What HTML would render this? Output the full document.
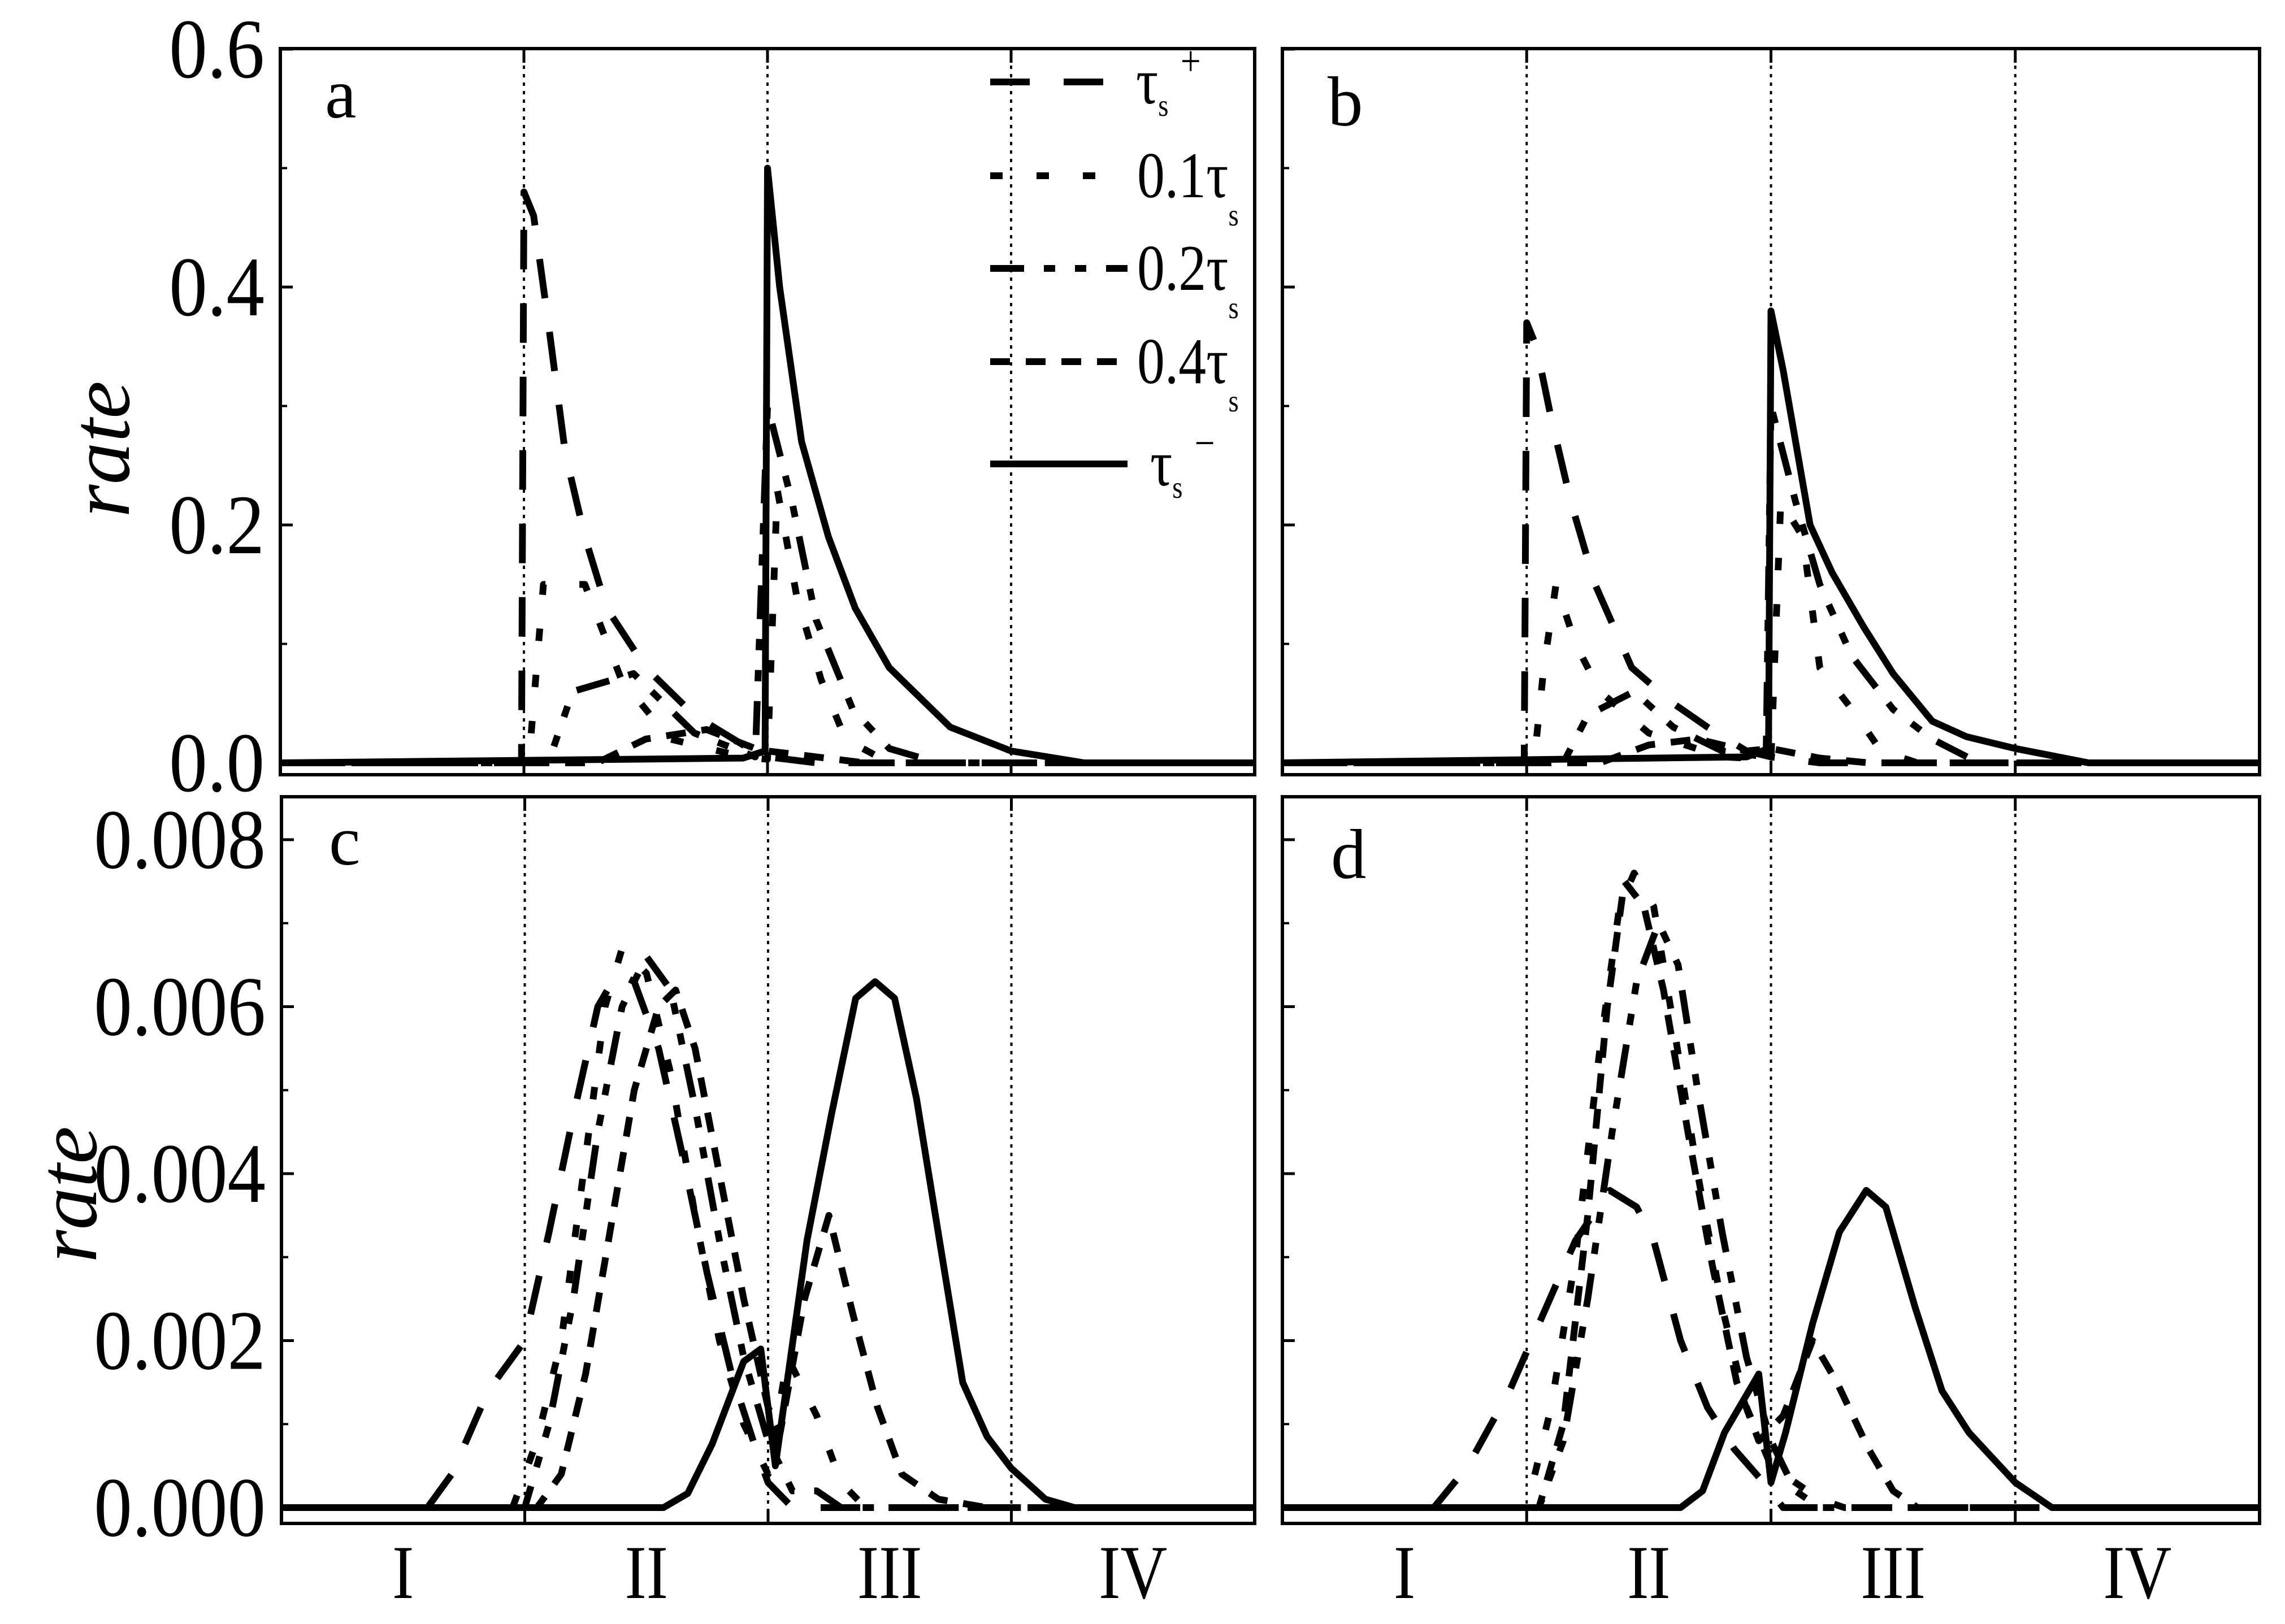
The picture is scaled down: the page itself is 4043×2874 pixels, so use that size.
<!DOCTYPE html>
<html><head><meta charset="utf-8">
<style>
html,body{margin:0;padding:0;background:#fff;}
svg{display:block;}
text{font-family:"Liberation Serif",serif;fill:#000;}
</style></head>
<body>
<svg id="fig" width="4043" height="2874" viewBox="0 0 4043 2874" xmlns="http://www.w3.org/2000/svg"></svg>
<script>
// ---- data (x in region units 0..4, region boundaries at 1,2,3) ----
const regionLabels = ["I","II","III","IV"];
const seriesNames = ["tau-plus","tau-0.1","tau-0.2","tau-0.4","tau-minus"];
const ticksTop = [0.0,0.2,0.4,0.6];
const tickLabelsTop = ["0.0","0.2","0.4","0.6"];
const ticksBottom = [0.000,0.002,0.004,0.006,0.008];
const tickLabelsBottom = ["0.000","0.002","0.004","0.006","0.008"];

const aTauPlusX = [0,0.99,1.0,1.04,1.1,1.17,1.25,1.34,1.5,1.7,1.9,2.0,2.2,4];
const aTauPlusY = [0,0,0.48,0.46,0.37,0.26,0.19,0.13,0.08,0.04,0.015,0.005,0,0];
const a01X = [0,1.02,1.08,1.25,1.4,1.6,1.9,2.0,2.04,2.12,2.22,2.32,2.5,4];
const a01Y = [0,0,0.15,0.15,0.07,0.02,0.005,0.003,0.23,0.14,0.07,0.02,0,0];
const a02X = [0,1.1,1.2,1.45,1.7,1.95,2.0,2.1,2.2,2.35,2.5,2.7,4];
const a02Y = [0,0,0.06,0.075,0.025,0.005,0.3,0.22,0.12,0.045,0.012,0,0];
const a04X = [0,1.3,1.5,1.75,1.95,2.0,2.2,2.4,4];
const a04Y = [0,0,0.02,0.028,0.012,0.01,0.005,0,0];
const aTauMinusX = [0,1.9,1.99,2.0,2.05,2.14,2.25,2.36,2.5,2.75,3.0,3.3,4];
const aTauMinusY = [0,0.004,0.01,0.5,0.4,0.27,0.19,0.13,0.08,0.03,0.01,0,0];

const bTauPlusX = [0,0.99,1.0,1.04,1.1,1.18,1.28,1.43,1.6,1.74,1.9,2.0,2.2,4];
const bTauPlusY = [0,0,0.37,0.35,0.29,0.22,0.15,0.08,0.05,0.03,0.01,0.005,0,0];
const b01X = [0,1.03,1.07,1.12,1.2,1.3,1.5,1.8,2.0,2.04,2.13,2.2,2.35,2.45,2.6,4];
const b01Y = [0,0,0.08,0.15,0.1,0.06,0.025,0.005,0.003,0.22,0.19,0.08,0.04,0.01,0,0];
const b02X = [0,1.15,1.25,1.44,1.6,1.8,1.98,2.0,2.1,2.2,2.33,2.5,2.66,2.85,4];
const b02Y = [0,0,0.04,0.06,0.03,0.01,0.005,0.3,0.22,0.15,0.09,0.045,0.02,0,0];
const b04X = [0,1.3,1.5,1.7,1.9,2.0,2.2,2.4,4];
const b04Y = [0,0,0.015,0.02,0.01,0.012,0.004,0,0];
const bTauMinusX = [0,1.9,1.99,2.0,2.05,2.16,2.25,2.38,2.5,2.66,2.8,3.0,3.3,4];
const bTauMinusY = [0,0.005,0.012,0.38,0.33,0.2,0.16,0.114,0.075,0.035,0.022,0.012,0,0];

const cTauPlusX = [0,0.6,0.7,0.85,1.0,1.1,1.2,1.3,1.38,1.45,1.55,1.65,1.75,1.85,1.95,2.0,2.1,4];
const cTauPlusY = [0,0,0.0004,0.0014,0.002,0.0033,0.0047,0.006,0.0064,0.0063,0.0055,0.0042,0.0028,0.0016,0.0007,0.0003,0,0];
const c01X = [0,0.95,1.05,1.15,1.25,1.33,1.4,1.5,1.6,1.7,1.8,1.9,2.0,2.08,2.2,2.3,2.4,4];
const c01Y = [0,0,0.0008,0.002,0.0042,0.006,0.0067,0.0064,0.0052,0.0035,0.002,0.001,0.0004,0.0018,0.0011,0.0003,0,0];
const c02X = [0,1.0,1.1,1.2,1.3,1.4,1.5,1.6,1.7,1.8,1.9,2.0,2.1,2.2,2.3,4];
const c02Y = [0,0,0.001,0.0025,0.0045,0.006,0.0066,0.0062,0.0048,0.0032,0.0018,0.0008,0.0002,0.0002,0,0];
const c04X = [0,1.05,1.15,1.25,1.35,1.45,1.55,1.62,1.7,1.8,1.9,2.0,2.05,2.15,2.25,2.35,2.45,2.55,2.7,2.9,4];
const c04Y = [0,0,0.0004,0.0016,0.0033,0.005,0.006,0.0062,0.0055,0.004,0.0025,0.0012,0.0009,0.0025,0.0035,0.0023,0.0012,0.0004,0.0001,0,0];
const cTauMinusX = [0,1.57,1.67,1.77,1.9,1.97,2.03,2.16,2.26,2.36,2.44,2.52,2.61,2.71,2.8,2.9,3.0,3.14,3.26,4];
const cTauMinusY = [0,0,0.00017,0.00076,0.00175,0.0019,0.0005,0.0032,0.0047,0.0061,0.0063,0.0061,0.0049,0.0031,0.0015,0.00085,0.00047,0.0001,0,0];

const dTauPlusX = [0,0.62,0.76,0.93,1.05,1.2,1.34,1.45,1.52,1.63,1.74,1.85,1.97,2.05,4];
const dTauPlusY = [0,0,0.0005,0.0014,0.0022,0.0032,0.0038,0.0036,0.0032,0.002,0.0012,0.0007,0.0003,0,0];
const d01X = [0,1.0,1.1,1.2,1.3,1.38,1.44,1.52,1.6,1.7,1.8,1.9,2.0,2.1,2.2,2.3,4];
const d01Y = [0,0,0.0012,0.003,0.0055,0.0072,0.0076,0.0072,0.0058,0.004,0.0024,0.0012,0.0005,0.0003,0.0001,0,0];
const d02X = [0,1.05,1.15,1.25,1.35,1.45,1.54,1.62,1.7,1.8,1.9,2.0,2.1,2.2,4];
const d02Y = [0,0,0.0008,0.0025,0.0045,0.0063,0.007,0.0065,0.005,0.0033,0.0018,0.0008,0.0002,0,0];
const d04X = [0,1.05,1.15,1.25,1.33,1.4,1.48,1.56,1.66,1.76,1.86,1.95,2.05,2.17,2.27,2.4,2.5,2.6,4];
const d04Y = [0,0,0.001,0.0035,0.006,0.0075,0.0072,0.0062,0.0045,0.0029,0.0015,0.0008,0.0011,0.002,0.0015,0.0007,0.0002,0,0];
const dTauMinusX = [0,1.63,1.72,1.81,1.95,2.0,2.06,2.17,2.28,2.39,2.47,2.59,2.7,2.81,3.0,3.15,4];
const dTauMinusY = [0,0,0.0002,0.0009,0.0016,0.0003,0.0009,0.0022,0.0033,0.0038,0.0036,0.0024,0.0014,0.0009,0.0003,0,0];

// ---- layout ----
const NS = "http://www.w3.org/2000/svg";
const svg = document.getElementById("fig");
function el(tag, attrs, parent){
  const e = document.createElementNS(NS, tag);
  for (const k in attrs) e.setAttribute(k, attrs[k]);
  (parent||svg).appendChild(e);
  return e;
}
const styles = {
  "tau-plus":  {dash:"70 60"},
  "tau-0.1":   {dash:"22 60"},
  "tau-0.2":   {dash:"60 35 20 35 20 35"},
  "tau-0.4":   {dash:"35 28"},
  "tau-minus": {dash:"none"}
};
const panels = [
  {id:"a", l:496, r:2220, t:86, b:1371, y0:1350, k:2105, letter:[575,208], ticks:ticksTop, labels:tickLabelsTop, minor:0.1, showY:true, showX:false,
   series:[[aTauPlusX,aTauPlusY],[a01X,a01Y],[a02X,a02Y],[a04X,a04Y],[aTauMinusX,aTauMinusY]]},
  {id:"b", l:2269, r:3998, t:86, b:1371, y0:1350, k:2105, letter:[2349,222], ticks:ticksTop, labels:tickLabelsTop, minor:0.1, showY:false, showX:false,
   series:[[bTauPlusX,bTauPlusY],[b01X,b01Y],[b02X,b02Y],[b04X,b04Y],[bTauMinusX,bTauMinusY]]},
  {id:"c", l:498, r:2220, t:1410, b:2696, y0:2668, k:147750, letter:[582,1530], ticks:ticksBottom, labels:tickLabelsBottom, minor:0.001, showY:true, showX:true,
   series:[[cTauPlusX,cTauPlusY],[c01X,c01Y],[c02X,c02Y],[c04X,c04Y],[cTauMinusX,cTauMinusY]]},
  {id:"d", l:2269, r:3998, t:1410, b:2696, y0:2668, k:147750, letter:[2355,1554], ticks:ticksBottom, labels:tickLabelsBottom, minor:0.001, showY:false, showX:true,
   series:[[dTauPlusX,dTauPlusY],[d01X,d01Y],[d02X,d02Y],[d04X,d04Y],[dTauMinusX,dTauMinusY]]}
];

panels.forEach(p=>{
  const g = el("g",{});
  
  
  const xs = v => p.l + v*(p.r-p.l)/4;
  const ys = v => p.y0 - v*p.k;
  [1,2,3].forEach(v=>{
    const ln = el("line",{x1:xs(v),x2:xs(v),y1:p.t,y2:p.b,stroke:"#000","stroke-width":4,"stroke-dasharray":"6 9"},g);
    
    
    el("line",{x1:xs(v),x2:xs(v),y1:p.t,y2:p.t+25,stroke:"#000","stroke-width":5},g);
    el("line",{x1:xs(v),x2:xs(v),y1:p.b,y2:p.b-25,stroke:"#000","stroke-width":5},g);
  });
  p.ticks.forEach((v,i)=>{
    el("line",{x1:p.l,x2:p.l+22,y1:ys(v),y2:ys(v),stroke:"#000","stroke-width":5},g);
    const mv = v + p.minor;
    if (ys(mv) > p.t) el("line",{x1:p.l,x2:p.l+12,y1:ys(mv),y2:ys(mv),stroke:"#000","stroke-width":4},g);
    if (p.showY){
      const t = el("text",{x:0,y:0,"text-anchor":"end","font-size":150,transform:`translate(${p.l-28},${ys(v)+50}) scale(0.9,1)`},g);
      t.textContent = p.labels[i];
      
      
    }
  });
  p.series.forEach((s,si)=>{
    const [X,Y] = s;
    let d = "";
    for (let i=0;i<X.length;i++) d += (i?"L":"M")+xs(X[i]).toFixed(1)+","+ys(Y[i]).toFixed(1);
    const st = styles[seriesNames[si]];
    const path = el("path",{d:d,fill:"none",stroke:"#000","stroke-width":12,"stroke-dasharray":st.dash,"stroke-linejoin":"round"},g);
    
    
  });
  const fr = el("rect",{x:p.l,y:p.t,width:p.r-p.l,height:p.b-p.t,fill:"none",stroke:"#000","stroke-width":6},g);
  
  
  const lt = el("text",{x:p.letter[0],y:p.letter[1],"font-size":125},g);
  lt.textContent = p.id;
  
  
  if (p.showX){
    regionLabels.forEach((r,i)=>{
      const t = el("text",{x:0,y:0,"text-anchor":"middle","font-size":135,transform:`translate(${xs(i+0.5)},${2828}) scale(0.85,1)`},g);
      t.textContent = r;
      
      
    });
  }
});

// y-axis titles (baseline x, center y)
[[228,795],[170,2114]].forEach(pos=>{
  const t = el("text",{x:0,y:0,"font-size":150,"font-style":"italic","text-anchor":"middle",transform:`translate(${pos[0]},${pos[1]}) rotate(-90)`});
  t.textContent = "rate";
  
  
});

// legend
const legRows = [145,311,475,640,821];
const leg = el("g",{});


const legText = [["τ","s","+"],["0.1τ","s",""],["0.2τ","s",""],["0.4τ","s",""],["τ","s","−"]];
legRows.forEach((y,i)=>{
  const st = styles[seriesNames[i]];
  const ln = el("line",{x1:1752,x2:1995,y1:y,y2:y,stroke:"#000","stroke-width":12,"stroke-dasharray":st.dash},leg);
  
  
  const lx = (i===0)?2010:(i===4?2035:2012);
  const t = el("text",{x:0,y:0,"font-size":115,transform:`translate(${lx},${y+38}) scale(0.85,1)`},leg);
  
  
  const m = document.createElementNS(NS,"tspan"); m.textContent = legText[i][0]; t.appendChild(m);
  const s = document.createElementNS(NS,"tspan"); s.textContent = legText[i][1];
  s.setAttribute("font-size","55"); s.setAttribute("dy", (i===0||i===4)?"22":"50"); t.appendChild(s);
  if (legText[i][2]){
    const sp = document.createElementNS(NS,"tspan"); sp.textContent = legText[i][2];
    sp.setAttribute("font-size","75"); sp.setAttribute("dx","25"); sp.setAttribute("dy","-72"); t.appendChild(sp);
  }
});
</script>
</body></html>
